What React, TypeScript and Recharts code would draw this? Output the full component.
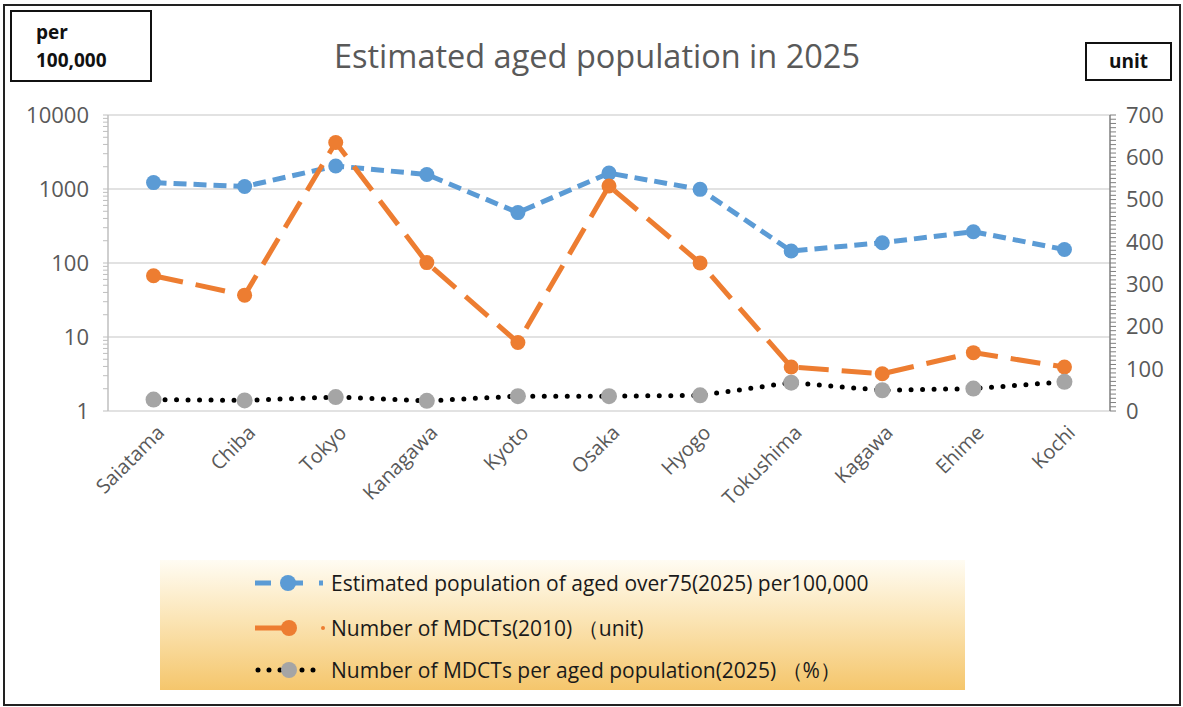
import React from 'react';
import { ComposedChart, Line, XAxis, YAxis, ReferenceLine } from 'recharts';

// prefectures
const categories = ['Saiatama', 'Chiba', 'Tokyo', 'Kanagawa', 'Kyoto', 'Osaka', 'Hyogo', 'Tokushima', 'Kagawa', 'Ehime', 'Kochi'];
// left (log) axis: aged >75 per 100,000
const agedPop = [1220, 1080, 2050, 1570, 480, 1640, 990, 145, 188, 265, 152];
// right axis: MDCT units in 2010
const mdcts = [320, 274, 635, 351, 162, 532, 350, 104, 88, 138, 104];
// right axis: MDCTs per aged population (%)
const mdctRatio = [27, 25, 33, 24, 35, 35, 37, 67, 49, 53, 69];

const leftMajor = [1, 10, 100, 1000, 10000];
const leftTicks = leftMajor.slice(0, -1).flatMap((d) => [1, 2, 3, 4, 5, 6, 7, 8, 9].map((m) => m * d)).concat([10000]);
const rightTicks = Array.from({ length: 71 }, (_, i) => i * 10);

const FONT = "'Open Sans', sans-serif";
const GREY_TXT = '#595959';
const BLUE = '#5b9bd5';
const ORANGE = '#ed7d31';
const GREY = '#a5a5a5';

const data = categories.map((name, i) => ({
  name, pop: agedPop[i], mdct: mdcts[i], ratio: mdctRatio[i],
}));

const XTick = ({ x, y, payload }: any) => (
  <g transform={`translate(${x + 7},${y + 10})`}>
    <text textAnchor="end" transform="rotate(-45)" dy="0.35em" fontSize={20} fill={GREY_TXT} fontFamily={FONT}>
      {payload.value}
    </text>
  </g>
);

const Legend = () => (
  <div style={{
    position: 'absolute', left: 160, top: 560, width: 805, height: 130,
    background: 'linear-gradient(to bottom, #fffcf3 0%, #fbe5b6 45%, #f5c66c 100%)',
    fontFamily: FONT, fontSize: 21, color: '#1a1a1a',
  }}>
    {[
      {
        label: 'Estimated population of aged over75(2025) per100,000', y: 23,
        icon: (
          <svg width={70} height={20}>
            <line x1={0} y1={10} x2={68} y2={10} stroke={BLUE} strokeWidth={5} strokeDasharray="16 16" />
            <circle cx={33} cy={10} r={8} fill={BLUE} />
          </svg>
        ),
      },
      {
        label: 'Number of MDCTs(2010) （unit)', y: 68,
        icon: (
          <svg width={70} height={20}>
            <line x1={0} y1={10} x2={40} y2={10} stroke={ORANGE} strokeWidth={5} />
            <circle cx={34} cy={10} r={8} fill={ORANGE} />
            <circle cx={68} cy={10} r={2} fill={ORANGE} />
          </svg>
        ),
      },
      {
        label: 'Number of MDCTs per aged population(2025) （%）', y: 110,
        icon: (
          <svg width={70} height={20}>
            <line x1={3} y1={10} x2={64} y2={10} stroke="#000" strokeWidth={5} strokeLinecap="round" strokeDasharray="0 11" />
            <circle cx={34} cy={10} r={8} fill={GREY} />
          </svg>
        ),
      },
    ].map((it) => (
      <div key={it.label} style={{ position: 'absolute', left: 95, top: it.y - 10, display: 'flex', alignItems: 'center', height: 20 }}>
        {it.icon}
        <span style={{ marginLeft: 6, whiteSpace: 'nowrap', lineHeight: '20px' }}>{it.label}</span>
      </div>
    ))}
  </div>
);

export default function App() {
  return (
    <div style={{ position: 'absolute', left: 0, top: 0, width: 1183, height: 707, background: '#fff', fontFamily: FONT }}>
      <div style={{ position: 'absolute', left: 3, top: 4, width: 1174, height: 698, border: '2px solid #222' }} />
      <div style={{
        position: 'absolute', left: 10, top: 10, width: 142, height: 72, border: '2px solid #111',
        fontWeight: 700, fontSize: 19, lineHeight: '28px', padding: '6px 0 0 24px', boxSizing: 'border-box', color: '#111',
      }}>
        per<br />100,000
      </div>
      <div style={{
        position: 'absolute', left: 1085, top: 42, width: 87, height: 39, border: '2px solid #111',
        fontWeight: 700, fontSize: 19, lineHeight: '35px', textAlign: 'center', boxSizing: 'border-box', color: '#111',
      }}>
        unit
      </div>
      <div style={{
        position: 'absolute', left: 0, width: 1194, top: 33, textAlign: 'center',
        fontSize: 32.5, color: GREY_TXT,
      }}>
        Estimated aged population in 2025
      </div>
      <div style={{ position: 'absolute', left: 0, top: 0 }}>
        <ComposedChart width={1183} height={707} data={data} margin={{ top: 115, right: 0, bottom: 196, left: 8 }}>
          <XAxis
            dataKey="name" scale="band" interval={0} tickLine={false} height={100}
            axisLine={{ stroke: '#d9d9d9', strokeWidth: 1.5 }} tick={<XTick />}
          />
          <YAxis
            yAxisId="left" scale="log" type="number" domain={[1, 10000]} ticks={leftTicks} interval={0}
            width={100} allowDataOverflow tickSize={5} tickMargin={14}
            axisLine={{ stroke: '#bfbfbf', strokeWidth: 1.5 }} tickLine={{ stroke: '#bfbfbf' }}
            tickFormatter={(v: number) => (leftMajor.includes(v) ? String(v) : '')}
            tick={{ fontSize: 22, fill: GREY_TXT, fontFamily: FONT }}
          />
          <YAxis
            yAxisId="right" orientation="right" type="number" domain={[0, 700]} ticks={rightTicks} interval={0}
            width={73} tickSize={6} tickMargin={10}
            axisLine={{ stroke: '#7f7f7f', strokeWidth: 1.5 }} tickLine={{ stroke: '#7f7f7f' }}
            tickFormatter={(v: number) => (v % 100 === 0 ? String(v) : '')}
            tick={{ fontSize: 22, fill: GREY_TXT, fontFamily: FONT, textAnchor: 'start' }}
          />
          {leftMajor.slice(1).map((v) => (
            <ReferenceLine key={v} yAxisId="left" y={v} stroke="#d9d9d9" strokeWidth={1.5} />
          ))}
          <Line
            yAxisId="left" dataKey="pop" stroke={BLUE} strokeWidth={5} strokeDasharray="13 7"
            dot={{ r: 7.5, fill: BLUE, stroke: 'none', strokeDasharray: '' }} activeDot={false}
            isAnimationActive={false}
          />
          <Line
            yAxisId="right" dataKey="mdct" stroke={ORANGE} strokeWidth={5} strokeDasharray="30 13"
            dot={{ r: 7.5, fill: ORANGE, stroke: 'none', strokeDasharray: '' }} activeDot={false}
            isAnimationActive={false}
          />
          <Line
            yAxisId="right" dataKey="ratio" stroke="#000" strokeWidth={5} strokeLinecap="round" strokeDasharray="0 11.5"
            dot={{ r: 8, fill: GREY, stroke: 'none', strokeDasharray: '' }} activeDot={false}
            isAnimationActive={false}
          />
        </ComposedChart>
      </div>
      <Legend />
    </div>
  );
}
